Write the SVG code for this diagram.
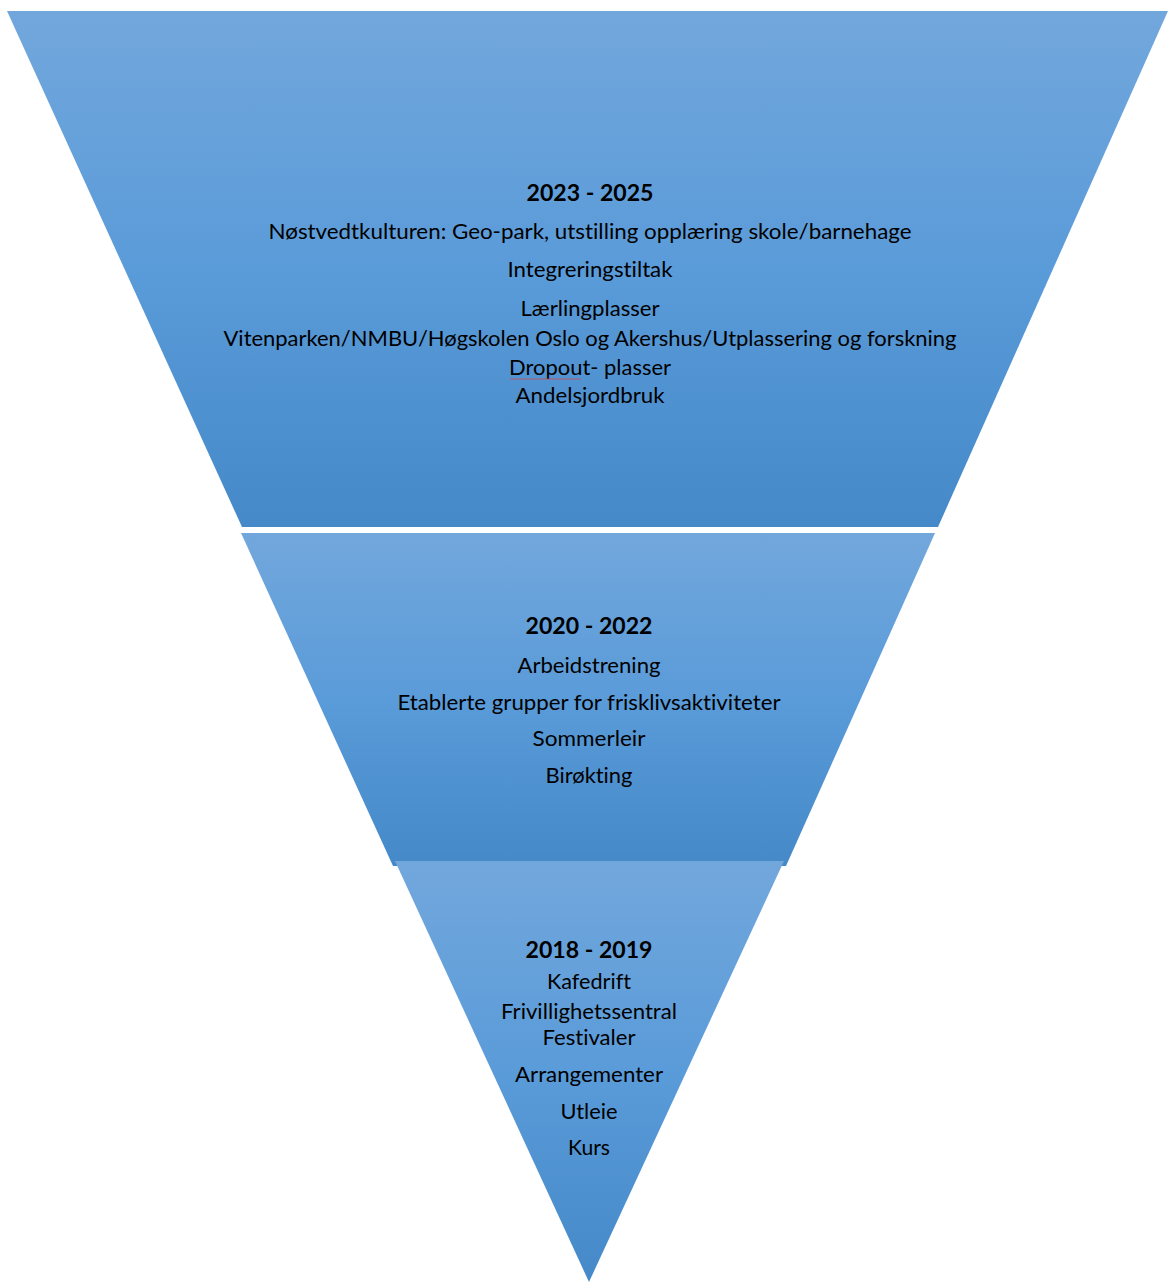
<svg xmlns="http://www.w3.org/2000/svg" width="1168" height="1282" viewBox="0 0 1168 1282">
<defs>
<linearGradient id="g" x1="0" y1="0" x2="0" y2="1">
<stop offset="0" stop-color="#72a7dc"/>
<stop offset="0.5" stop-color="#5a9bd9"/>
<stop offset="1" stop-color="#4589c8"/>
</linearGradient>
</defs>
<style>
.t{font-family:Lato,"Liberation Sans",sans-serif;font-size:21px;fill:#000;text-anchor:middle;font-variant-ligatures:none;font-feature-settings:"liga" 0,"clig" 0}
.b{font-weight:bold;font-size:22px}
.sq{stroke:#e0403a;stroke-width:1;fill:none;opacity:0.7}
</style>
<rect width="1168" height="1282" fill="#fff"/>
<g id="tier-2023">
<polygon points="7,11 1168,11 938,527 242,527" fill="url(#g)"/>
<text class="t b" x="590" y="201" textLength="127" lengthAdjust="spacingAndGlyphs">2023 - 2025</text>
<text class="t" x="590" y="239" textLength="643" lengthAdjust="spacingAndGlyphs">Nøstvedtkulturen: Geo-park, utstilling opplæring skole/barnehage</text>
<text class="t" x="590" y="277" textLength="165" lengthAdjust="spacingAndGlyphs">Integreringstiltak</text>
<text class="t" x="590" y="316" textLength="139" lengthAdjust="spacingAndGlyphs">Lærlingplasser</text>
<text class="t" x="590" y="346" textLength="733" lengthAdjust="spacingAndGlyphs">Vitenparken/NMBU/Høgskolen Oslo og Akershus/Utplassering og forskning</text>
<text class="t" x="590" y="375" textLength="162" lengthAdjust="spacingAndGlyphs">Dropout- plasser</text>
<text class="t" x="590" y="403" textLength="149" lengthAdjust="spacingAndGlyphs">Andelsjordbruk</text>
<path class="sq" d="M510,379 L581,379"/>
</g>
<g id="tier-2020">
<polygon points="241,533 935,533 786,866 393,866" fill="url(#g)"/>
<text class="t b" x="589" y="634" textLength="127" lengthAdjust="spacingAndGlyphs">2020 - 2022</text>
<text class="t" x="589" y="673" textLength="143" lengthAdjust="spacingAndGlyphs">Arbeidstrening</text>
<text class="t" x="589" y="710" textLength="383" lengthAdjust="spacingAndGlyphs">Etablerte grupper for frisklivsaktiviteter</text>
<text class="t" x="589" y="746" textLength="113" lengthAdjust="spacingAndGlyphs">Sommerleir</text>
<text class="t" x="589" y="783" textLength="87" lengthAdjust="spacingAndGlyphs">Birøkting</text>
</g>
<g id="tier-2018">
<polygon points="395,861 784,861 589,1282" fill="url(#g)"/>
<text class="t b" x="589" y="958" textLength="127" lengthAdjust="spacingAndGlyphs">2018 - 2019</text>
<text class="t" x="589" y="989" textLength="84" lengthAdjust="spacingAndGlyphs">Kafedrift</text>
<text class="t" x="589" y="1019" textLength="176" lengthAdjust="spacingAndGlyphs">Frivillighetssentral</text>
<text class="t" x="589" y="1045" textLength="93" lengthAdjust="spacingAndGlyphs">Festivaler</text>
<text class="t" x="589" y="1082" textLength="148" lengthAdjust="spacingAndGlyphs">Arrangementer</text>
<text class="t" x="589" y="1119" textLength="57" lengthAdjust="spacingAndGlyphs">Utleie</text>
<text class="t" x="589" y="1155" textLength="42" lengthAdjust="spacingAndGlyphs">Kurs</text>
</g>
<g id="connectors"/>
</svg>
